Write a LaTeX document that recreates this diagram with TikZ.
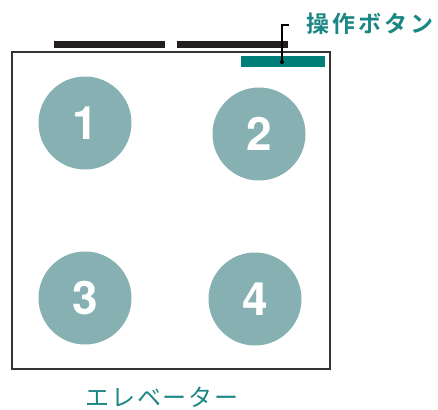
\documentclass[tikz,border=0pt]{standalone}
\usepackage{fontspec}
\setmainfont{TeX Gyre Heros}
\newfontfamily\jpfont[LetterSpace=7]{Noto Sans CJK JP}
\newfontfamily\jpboldfont[LetterSpace=13]{Noto Sans CJK JP Bold}
\definecolor{seatcol}{HTML}{86B0B2}
\definecolor{tealcol}{HTML}{007F79}
\definecolor{labelcol}{HTML}{1A8782}
\definecolor{barcol}{HTML}{231F20}
\definecolor{wallcol}{HTML}{333333}
\begin{document}
\begin{tikzpicture}[x=1pt,y=-1pt,
    seat/.style={circle,fill=seatcol,minimum size=93pt,inner sep=0pt,text=white,
      font=\bfseries\fontsize{46}{46}\selectfont},
    jplabel/.style={inner sep=0pt,text=labelcol}]
  \useasboundingbox (0,0) rectangle (438,409);
  % cabin
  \draw[wallcol,line width=2pt] (12,52) rectangle (330,369);
  % doors
  \fill[barcol] (54,41) rectangle (165,48);
  \fill[barcol] (177,41) rectangle (288,48);
  % button panel
  \fill[tealcol] (241,56) rectangle (325,67);
  % places
  \node[seat] (s1) at (85,123) {1};
  \node[seat] (s2) at (259,134) {2};
  \node[seat] (s3) at (85,298) {3};
  \node[seat] (s4) at (255,299) {4};
  % labels
  \node[jplabel,font=\jpboldfont\fontsize{23}{23}\selectfont,anchor=west] (btnlabel) at (306,24) {操作ボタン};
  \node[jplabel,font=\jpfont\fontsize{24}{24}\selectfont] (cablabel) at (162,397) {エレベーター};
  \coordinate (btn) at (282,62);
  \coordinate (lead) at (289,25);
  \fill (btn) circle (2);
  \draw[line width=1.2pt] (btn) |- (lead);
\end{tikzpicture}
\end{document}
